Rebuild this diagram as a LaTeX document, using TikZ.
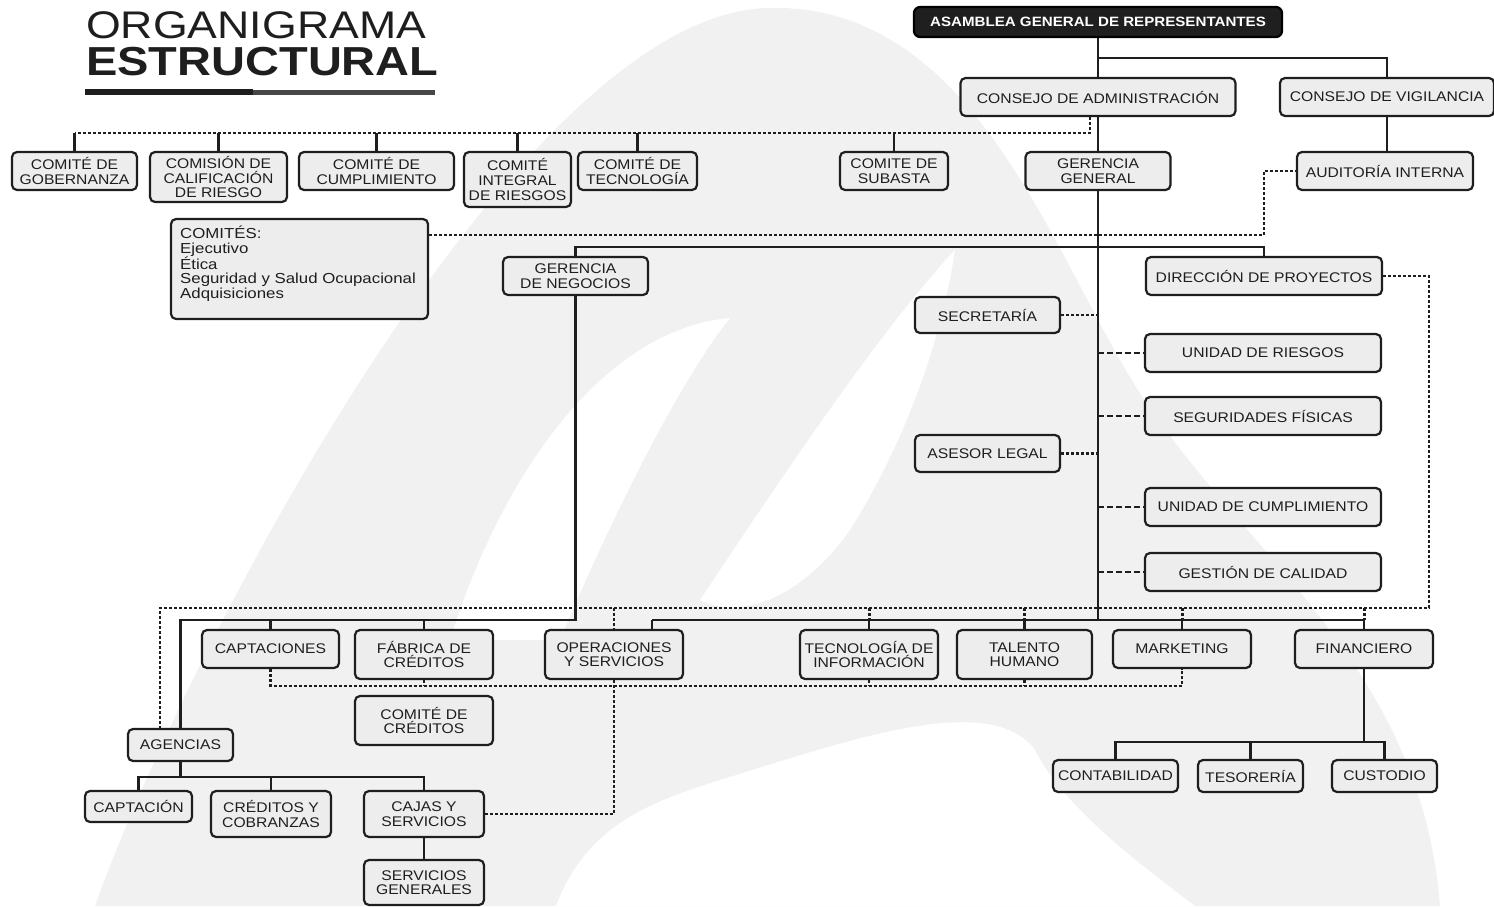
\documentclass[tikz,border=0pt]{standalone}
\usepackage{fontspec}
\setmainfont{Liberation Sans}[FakeStretch=1.12]
\newfontfamily\titlefont{Liberation Sans}[FakeStretch=1.16]
\usetikzlibrary{calc}

\definecolor{ink}{HTML}{1E1E1E}
\definecolor{boxfill}{HTML}{EDEDED}
\definecolor{logogray}{HTML}{F1F1F1}

\begin{document}
\begin{tikzpicture}[x=1pt,y=-1pt,
  box/.style={draw=ink, line width=2.2pt, rounded corners=5pt, fill=boxfill,
    inner sep=0pt, align=center, text=ink,
    font=\fontsize{14}{14.6}\selectfont},
  link/.style={draw=ink, line width=2.3pt},
  dots/.style={draw=ink, line width=2.4pt, dash pattern=on 3pt off 2pt},
  dashes/.style={draw=ink, line width=2.2pt, dash pattern=on 6pt off 3pt},
]
\useasboundingbox (0,0) rectangle (1494,906);

% faint logo in the background
\begin{scope}
\clip (0,0) rectangle (1494,906);
\fill[logogray] (95,906) .. controls (190,640) and (520,15) .. (767,8)
  .. controls (960,2) and (1040,220) .. (1120,360)
  .. controls (1220,540) and (1420,650) .. (1440,906) -- cycle;
\fill[white] (556,906) .. controls (585,830) and (640,805) .. (720,780)
  .. controls (850,740) and (990,690) .. (1035,750)
  .. controls (1060,800) and (1120,850) .. (1195,906) -- cycle;
\fill[white] (450,640) .. controls (500,480) and (600,330) .. (730,318)
  .. controls (680,380) and (610,520) .. (560,640) -- cycle;
\fill[white] (700,600) .. controls (780,480) and (880,330) .. (955,250)
  .. controls (940,350) and (900,450) .. (850,530)
  .. controls (800,600) and (740,620) .. (700,600) -- cycle;
\end{scope}

% title
\node[anchor=base west, inner sep=0pt, text=ink,
  font=\titlefont\fontsize{38.5}{40}\selectfont] (t1) at (86,38) {ORGANIGRAMA};
\node[anchor=base west, inner sep=0pt, text=ink,
  font=\titlefont\bfseries\fontsize{40.5}{44}\selectfont] (t2) at (86,75) {ESTRUCTURAL};
\fill[ink] (85,89) rectangle (253,95);
\fill[black!72] (253,89.5) rectangle (435,94.5);

% governing bodies
\node[box, fill=black!88, draw=black, rounded corners=6pt, text=white,
  minimum width=368pt, minimum height=30pt,
  font=\bfseries\fontsize{13.5}{14}\selectfont] (asam) at (1098,22)
  {ASAMBLEA GENERAL DE REPRESENTANTES};
\node[box, minimum width=275pt, minimum height=38pt] (cadm) at (1098,97) {CONSEJO DE ADMINISTRACIÓN};
\node[box, minimum width=214pt, minimum height=38pt] (cvig) at (1387,97) {CONSEJO DE VIGILANCIA};
\node[box, minimum width=176pt, minimum height=38pt] (audit) at (1385,171) {AUDITORÍA INTERNA};
\node[box, minimum width=145pt, minimum height=38pt] (ggen) at (1098,171) {GERENCIA\\GENERAL};

% committees
\node[box, minimum width=125pt, minimum height=38pt] (cgob) at (74.5,171) {COMITÉ DE\\GOBERNANZA};
\node[box, minimum width=137pt, minimum height=50pt] (ccal) at (218.5,177) {COMISIÓN DE\\CALIFICACIÓN\\DE RIESGO};
\node[box, minimum width=155pt, minimum height=38pt] (ccum) at (376.5,171) {COMITÉ DE\\CUMPLIMIENTO};
\node[box, minimum width=107pt, minimum height=55pt] (cint) at (517.5,179.5) {COMITÉ\\INTEGRAL\\DE RIESGOS};
\node[box, minimum width=119pt, minimum height=38pt] (ctec) at (637.5,171) {COMITÉ DE\\TECNOLOGÍA};
\node[box, minimum width=108pt, minimum height=38pt] (csub) at (894,171) {COMITE DE\\SUBASTA};
\node[box, minimum width=257pt, minimum height=100pt] (comites) at (299.5,269) {};
\node[anchor=north west, align=left, inner sep=0pt, text=ink,
  font=\titlefont\fontsize{14.5}{14.3}\selectfont] (comtxt) at (180,226)
  {COMITÉS:\\Ejecutivo\\Ética\\Seguridad y Salud Ocupacional\\Adquisiciones};

% management
\node[box, minimum width=145pt, minimum height=38pt] (gneg) at (575.5,276) {GERENCIA\\DE NEGOCIOS};
\node[box, minimum width=236pt, minimum height=38pt] (dproy) at (1264,276) {DIRECCIÓN DE PROYECTOS};
\node[box, minimum width=145pt, minimum height=36pt] (secr) at (987.5,315) {SECRETARÍA};
\node[box, minimum width=236pt, minimum height=38pt] (uries) at (1263,353) {UNIDAD DE RIESGOS};
\node[box, minimum width=236pt, minimum height=38pt] (segf) at (1263,416) {SEGURIDADES FÍSICAS};
\node[box, minimum width=145pt, minimum height=37pt] (alegal) at (987.5,453.5) {ASESOR LEGAL};
\node[box, minimum width=236pt, minimum height=38pt] (ucum) at (1263,507) {UNIDAD DE CUMPLIMIENTO};
\node[box, minimum width=236pt, minimum height=38pt] (gcal) at (1263,572) {GESTIÓN DE CALIDAD};

% operating areas
\node[box, minimum width=137pt, minimum height=38pt] (capt) at (270.5,649) {CAPTACIONES};
\node[box, minimum width=138pt, minimum height=49pt] (fab) at (424,654.5) {FÁBRICA DE\\CRÉDITOS};
\node[box, minimum width=138pt, minimum height=49pt] (ops) at (614,654.5) {OPERACIONES\\Y SERVICIOS};
\node[box, minimum width=138pt, minimum height=49pt] (tinf) at (869,654.5) {TECNOLOGÍA DE\\INFORMACIÓN};
\node[box, minimum width=135pt, minimum height=49pt] (thum) at (1024.5,654.5) {TALENTO\\HUMANO};
\node[box, minimum width=138pt, minimum height=38pt] (mkt) at (1182,649) {MARKETING};
\node[box, minimum width=138pt, minimum height=38pt] (fin) at (1364,649) {FINANCIERO};
\node[box, minimum width=138pt, minimum height=49pt] (ccred) at (424,720.5) {COMITÉ DE\\CRÉDITOS};

% branches
\node[box, minimum width=105pt, minimum height=32pt] (agen) at (180.5,745) {AGENCIAS};
\node[box, minimum width=107pt, minimum height=31pt] (captn) at (138.5,806.5) {CAPTACIÓN};
\node[box, minimum width=120pt, minimum height=46pt] (ccob) at (271,814) {CRÉDITOS Y\\COBRANZAS};
\node[box, minimum width=120pt, minimum height=46pt] (cajas) at (424,814) {CAJAS Y\\SERVICIOS};
\node[box, minimum width=120pt, minimum height=45pt] (sgen) at (424,882.5) {SERVICIOS\\GENERALES};

% finance units
\node[box, minimum width=125pt, minimum height=32pt] (conta) at (1115.5,776) {CONTABILIDAD};
\node[box, minimum width=105pt, minimum height=32pt] (teso) at (1250.5,776) {TESORERÍA};
\node[box, minimum width=105pt, minimum height=32pt] (cust) at (1384.5,776) {CUSTODIO};

% bus lines
\coordinate (vbus) at (1098,58);
\coordinate (cbus) at (1090,133);
\coordinate (aud1) at (1264,235);
\coordinate (gbus) at (0,247);
\coordinate (rowD) at (160,608);
\coordinate (rowR) at (1429,608);
\coordinate (rowA) at (0,620);
\coordinate (opsj) at (652,620);
\coordinate (rowE) at (0,686);
\coordinate (fbus) at (0,742);
\coordinate (abus) at (0,777);

% main trunk
\draw[link] (asam.south) -- (cadm.north);
\draw[link] (cadm.south) -- (ggen.north);
\draw[link] (ggen.south) -- (ggen.south |- rowA);
\draw[link] (vbus) -| (cvig.north);
\draw[link] (cvig.south) -- (cvig.south |- audit.north);

% committees of the board
\draw[dots] (cadm.south -| cbus) -- (cbus) -- (cbus -| cgob.north);
\foreach \n in {cgob,ccal,ccum,cint,ctec,csub}
  \draw[link] (\n.north |- cbus) -- (\n.north);
\draw[dots] (comites.east |- aud1) -- (aud1) |- (audit.west);

% management level
\draw[link] (gneg.north) |- (dproy.north |- gbus) -- (dproy.north);
\draw[dots] (secr.east) -- (secr.east -| ggen.south);
\draw[dots] (alegal.east) -- (alegal.east -| ggen.south);
\foreach \n in {uries,segf,ucum,gcal}
  \draw[dashes] (\n.west -| ggen.south) -- (\n.west);

% business branch
\draw[link] (gneg.south) |- (agen.north |- rowA) -- (agen.north);
\draw[link] (capt.north |- rowA) -- (capt.north);
\draw[link] (fab.north |- rowA) -- (fab.north);

% operating areas under general management
\draw[link] (opsj) -- (fin.north |- rowA) -- (fin.north);
\draw[link] (opsj) -- (opsj |- ops.north);
\foreach \n in {tinf,thum,mkt}
  \draw[link] (\n.north |- rowA) -- (\n.north);

% project coordination line
\draw[dots] (dproy.east) -| (rowR) -- (rowD) -- (rowD |- agen.north);
\draw[dots] (ops.north |- rowR) -- (ops.north);
\foreach \n in {tinf,thum,mkt,fin}
  \draw[dots, line width=3pt] (\n.north |- rowR) -- (\n.north |- rowA);

% coordination among areas
\draw[dots] (capt.south) |- (mkt.south |- rowE) -- (mkt.south);
\foreach \n in {fab,tinf,thum}
  \draw[dots] (\n.south) -- (\n.south |- rowE);
\draw[dots] (ops.south) |- (cajas.east);

% agencies
\draw[link] (agen.south) -- (agen.south |- abus);
\draw[link] (captn.north) |- (cajas.north |- abus) -- (cajas.north);
\draw[link] (ccob.north |- abus) -- (ccob.north);
\draw[link] (cajas.south) -- (sgen.north);

% finance
\draw[link] (fin.south) -- (fin.south |- fbus);
\draw[link] (conta.north) |- (cust.north |- fbus) -- (cust.north);
\draw[link] (teso.north |- fbus) -- (teso.north);
\end{tikzpicture}
\end{document}
